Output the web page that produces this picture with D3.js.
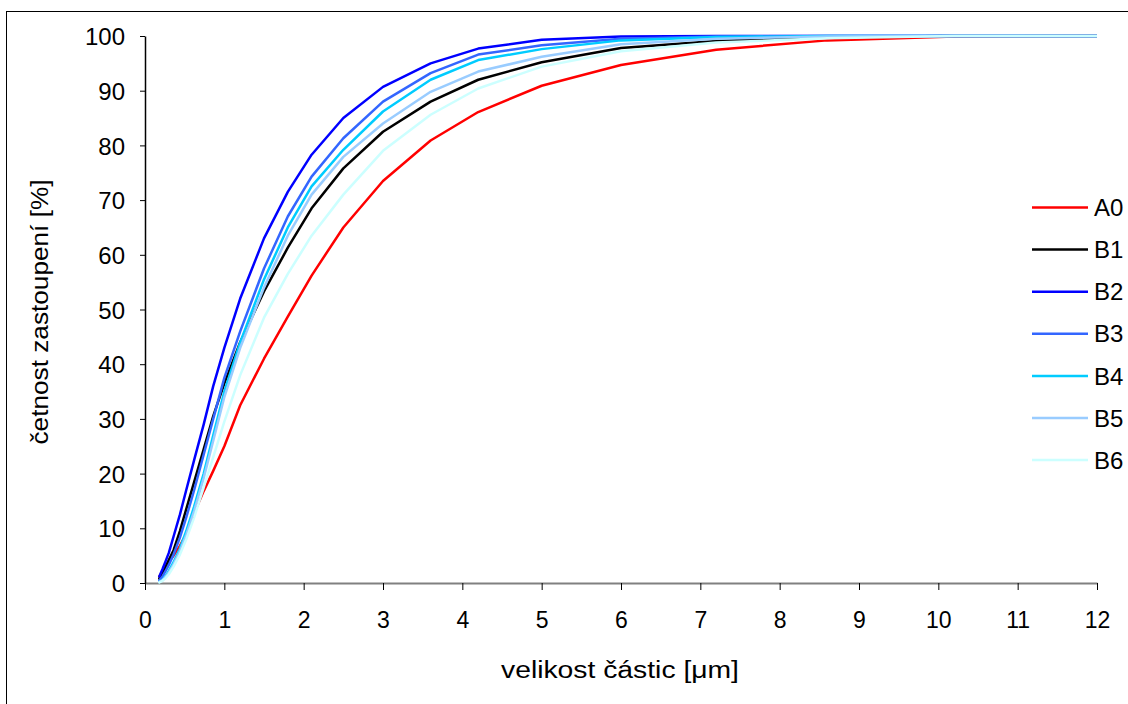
<!DOCTYPE html>
<html>
<head>
<meta charset="utf-8">
<script src="https://cdn.jsdelivr.net/npm/d3@7"></script>
<style>
  body { margin: 0; background: #fff; }
  svg { display: block; font-family: "Liberation Sans", Arial, sans-serif; }
</style>
</head>
<body>
<svg id="chart" width="1128" height="704"></svg>
<script>
// Particle size classes [µm]
const sizes = [0.18, 0.22, 0.26, 0.30, 0.36, 0.44, 0.52, 0.62, 0.74, 0.86, 1.00, 1.20, 1.50, 1.80, 2.10, 2.50, 3.00, 3.60, 4.20, 5.00, 6.00, 7.20, 8.60, 10.20, 12.20];

// Cumulative frequency [%] per sample
const A0 = [1.2, 2.0, 3.0, 3.9, 5.0, 6.8, 9.0, 12.8, 16.8, 20.5, 25.0, 32.5, 41.0, 48.7, 56.2, 65.0, 73.5, 80.9, 86.1, 90.9, 94.7, 97.5, 99.2, 99.9, 100];
const B1 = [0.8, 1.8, 3.0, 4.2, 6.0, 9.5, 13.5, 18.5, 24.5, 30.5, 36.5, 44.0, 53.3, 61.3, 68.5, 75.8, 82.5, 88.0, 92.0, 95.2, 97.8, 99.1, 99.8, 100, 100];
const B2 = [1.2, 2.5, 4.0, 5.5, 8.5, 12.5, 17.0, 22.5, 29.0, 36.0, 43.0, 52.0, 63.0, 71.5, 78.3, 85.0, 90.7, 95.0, 97.7, 99.3, 99.9, 100, 100, 100, 100];
const B3 = [0.5, 1.2, 2.2, 3.3, 5.2, 8.3, 12.0, 17.0, 23.5, 30.0, 37.5, 46.0, 57.5, 67.0, 74.3, 81.3, 88.0, 93.2, 96.6, 98.3, 99.5, 99.9, 100, 100, 100];
const B4 = [0.2, 0.6, 1.3, 2.2, 3.8, 6.3, 9.5, 14.0, 20.0, 27.0, 35.0, 44.0, 55.5, 65.0, 72.5, 79.2, 86.2, 92.0, 95.6, 97.6, 99.2, 99.8, 100, 100, 100];
const B5 = [0.2, 0.5, 1.1, 1.9, 3.4, 5.8, 8.8, 13.2, 19.2, 26.0, 34.0, 43.0, 54.0, 63.5, 71.0, 77.9, 84.0, 89.8, 93.5, 96.2, 98.5, 99.5, 99.9, 100, 100];
const B6 = [0.1, 0.4, 0.9, 1.6, 3.0, 5.2, 8.0, 12.0, 17.5, 23.0, 29.5, 38.0, 48.5, 56.5, 63.5, 71.0, 79.0, 85.6, 90.4, 94.4, 97.2, 98.8, 99.6, 100, 100];

const seriesNames = ["A0", "B1", "B2", "B3", "B4", "B5", "B6"];
const seriesValues = [A0, B1, B2, B3, B4, B5, B6];
const seriesColors = ["#ff0000", "#000000", "#0000ff", "#3366ff", "#00ccff", "#99ccff", "#ccffff"];

const xTicks = d3.range(0, 13, 1);
const yTicks = d3.range(0, 101, 10);

const xTitle = "velikost částic [μm]";
const yTitle = "četnost zastoupení [%]";

const svg = d3.select("#chart");

// outer frame
svg.append("rect")
  .attr("x", 6.5).attr("y", 11.5)
  .attr("width", 1140).attr("height", 720)
  .attr("fill", "none").attr("stroke", "#000").attr("stroke-width", 1);

const x = d3.scaleLinear().domain([0, 12]).range([145, 1097]);
const y = d3.scaleLinear().domain([0, 100]).range([583, 36]);

svg.append("clipPath").attr("id", "plotclip")
  .append("rect")
  .attr("x", x(0) - 5).attr("y", y(100) - 5)
  .attr("width", x(12) - x(0) + 5).attr("height", y(0) - y(100) + 10);

// X axis
const xAxis = svg.append("g")
  .attr("transform", `translate(0,${y(0)})`)
  .call(d3.axisBottom(x).tickValues(xTicks).tickFormat(d3.format("d")).tickSize(7).tickPadding(0).tickSizeOuter(0));
xAxis.select(".domain").attr("stroke", "#808080").attr("stroke-width", 2);
xAxis.selectAll(".tick line").attr("stroke", "#000").attr("stroke-width", 1);
xAxis.selectAll(".tick text")
  .attr("y", 45).attr("dy", null)
  .attr("font-size", 23).attr("fill", "#000")
  .attr("font-family", "Liberation Sans, Arial, sans-serif");

// Y axis
const yAxis = svg.append("g")
  .attr("transform", `translate(${x(0)},0)`)
  .call(d3.axisLeft(y).tickValues(yTicks).tickFormat(d3.format("d")).tickSize(5).tickPadding(15).tickSizeOuter(0));
yAxis.select(".domain").attr("stroke", "#000").attr("stroke-width", 1.5);
yAxis.selectAll(".tick line").attr("stroke", "#000").attr("stroke-width", 1);
yAxis.selectAll(".tick text")
  .attr("font-size", 24).attr("fill", "#000")
  .attr("dy", "0.36em")
  .attr("font-family", "Liberation Sans, Arial, sans-serif");

// lines
const line = d3.line()
  .x((d, i) => x(sizes[i]))
  .y(d => y(d))
  .curve(d3.curveLinear);

const gLines = svg.append("g").attr("clip-path", "url(#plotclip)");
seriesValues.forEach((vals, k) => {
  gLines.append("path")
    .datum(vals)
    .attr("d", line)
    .attr("fill", "none")
    .attr("stroke", seriesColors[k])
    .attr("stroke-width", 2.5)
    .attr("stroke-linejoin", "round")
    .attr("stroke-linecap", "round");
});

// axis titles
svg.append("text")
  .attr("x", 620).attr("y", 678)
  .attr("text-anchor", "middle")
  .attr("font-size", 23)
  .attr("textLength", 238).attr("lengthAdjust", "spacingAndGlyphs")
  .text(xTitle);

svg.append("text")
  .attr("transform", "translate(48,312) rotate(-90)")
  .attr("text-anchor", "middle")
  .attr("font-size", 23)
  .attr("textLength", 265).attr("lengthAdjust", "spacingAndGlyphs")
  .text(yTitle);

// legend
const legend = svg.append("g");
seriesNames.forEach((name, k) => {
  const ly = 207.5 + k * 42.1;
  legend.append("line")
    .attr("x1", 1032).attr("x2", 1088)
    .attr("y1", ly).attr("y2", ly)
    .attr("stroke", seriesColors[k]).attr("stroke-width", 2.5);
  legend.append("text")
    .attr("x", 1094).attr("y", ly)
    .attr("dy", "0.36em")
    .attr("font-size", 24)
    .text(name);
});
</script>
</body>
</html>
